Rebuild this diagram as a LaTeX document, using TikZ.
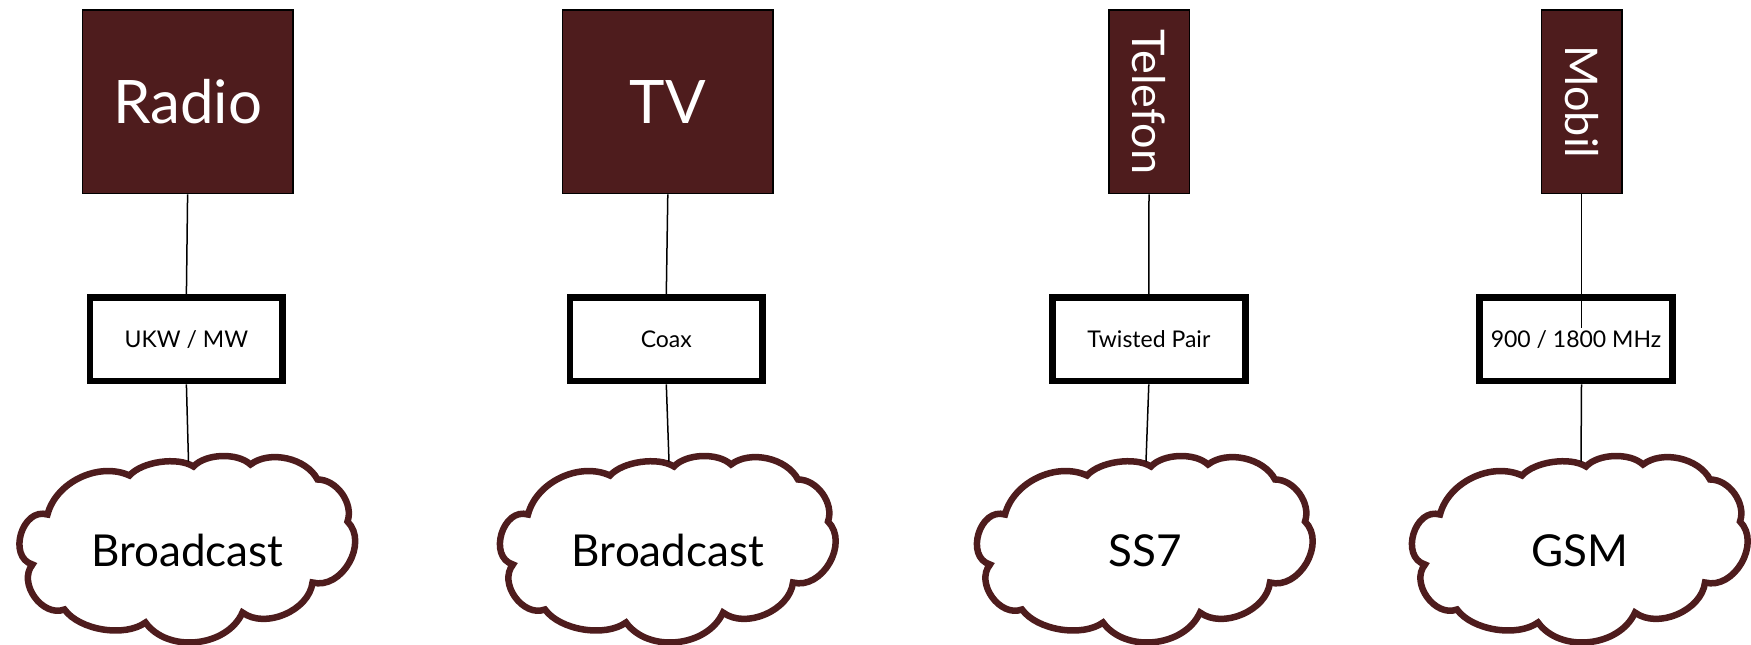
\documentclass[tikz,border=0pt]{standalone}
\usepackage{fontspec}
\usepackage{graphicx}
\setmainfont{Lato}
\definecolor{maroon}{RGB}{78,28,29}
\tikzset{
  medium/.style={draw=black, line width=1.5pt, fill=maroon, text=white,
    minimum width=210.5pt, minimum height=183.5pt, inner sep=0pt,
    font=\fontsize{60}{72}\selectfont},
  slimmedium/.style={medium, minimum width=80.5pt,
    font=\fontsize{45}{54}\selectfont},
  carrier/.style={draw=black, line width=6.7pt, fill=white,
    minimum width=192.7pt, minimum height=83.3pt, inner sep=0pt,
    font=\fontsize{23}{28}\selectfont},
  cloudline/.style={draw=maroon, line width=6.5pt, fill=white, line join=miter},
  cloudtext/.style={inner sep=0pt, font=\fontsize{44}{52}\selectfont},
  wire/.style={draw=black, line width=1.5pt}
}
% cloud outline of eleven puffs around a centre; #2 names the text node,
% #2top the point on the upper edge where the link arrives
\newcommand\netcloud[3]{%
  \begin{scope}[shift={(#1)}]
    \draw[cloudline]
      (6,81) to[bend left=45, looseness=0.8] (63,83)
      to[bend left=50, looseness=0.9] (130,68)
      to[bend left=55, looseness=0.95] (160,26)
      to[bend left=75, looseness=1.1] (125,-35)
      to[bend left=60, looseness=0.95] (55,-65)
      to[bend left=60, looseness=1.0] (-42,-75)
      to[bend left=45, looseness=0.8] (-123,-62)
      to[bend left=75, looseness=1.1] (-155,-17)
      to[bend left=90, looseness=1.3] (-140,33)
      to[bend left=50, looseness=0.95] (-58,72)
      to[bend left=40, looseness=0.75] (6,81) -- cycle;
    \coordinate (#2top) at (1,86);
    \node[cloudtext] (#2) at (0,-3) {#3};
  \end{scope}}
\begin{document}
\begin{tikzpicture}[x=1pt, y=1pt]
  \useasboundingbox (0,0) rectangle (1751,-645);

  % services
  \node[medium] (radio) at (187.6,-101.8) {Radio};
  \node[medium] (tv) at (667.8,-101.8) {TV};
  \node[slimmedium] (telefon) at (1149,-101.8) {\rotatebox{-90}{Telefon}};
  \node[slimmedium] (mobil) at (1581.5,-101.8) {\rotatebox{-90}{Mobil}};

  % transmission media
  \node[carrier] (ukw) at (186.4,-339.3) {UKW / MW};
  \node[carrier] (coax) at (666.3,-339.3) {Coax};
  \node[carrier] (tp) at (1148.8,-339.3) {Twisted Pair};
  \node[carrier] (gsmband) at (1576,-339.3) {900 / 1800 MHz};

  % networks
  \netcloud{187.5,-547.5}{bcradio}{Broadcast}
  \netcloud{668,-547.5}{bctv}{Broadcast}
  \netcloud{1145,-547.5}{ss}{SS7}
  \netcloud{1580,-547.5}{gsm}{GSM}

  \coordinate (mobilend) at (1581.5,-328);

  % links
  \draw[wire] (radio.south) -- (ukw.north);
  \draw[wire] (ukw.south) -- (bcradiotop);
  \draw[wire] (tv.south) -- (coax.north);
  \draw[wire] (coax.south) -- (bctvtop);
  \draw[wire] (telefon.south) -- (tp.north);
  \draw[wire] (tp.south) -- (sstop);
  \draw[wire] (mobil.south) -- (mobilend);
  \draw[wire] (gsmband.south -| mobil.south) -- (gsmtop);
\end{tikzpicture}
\end{document}
